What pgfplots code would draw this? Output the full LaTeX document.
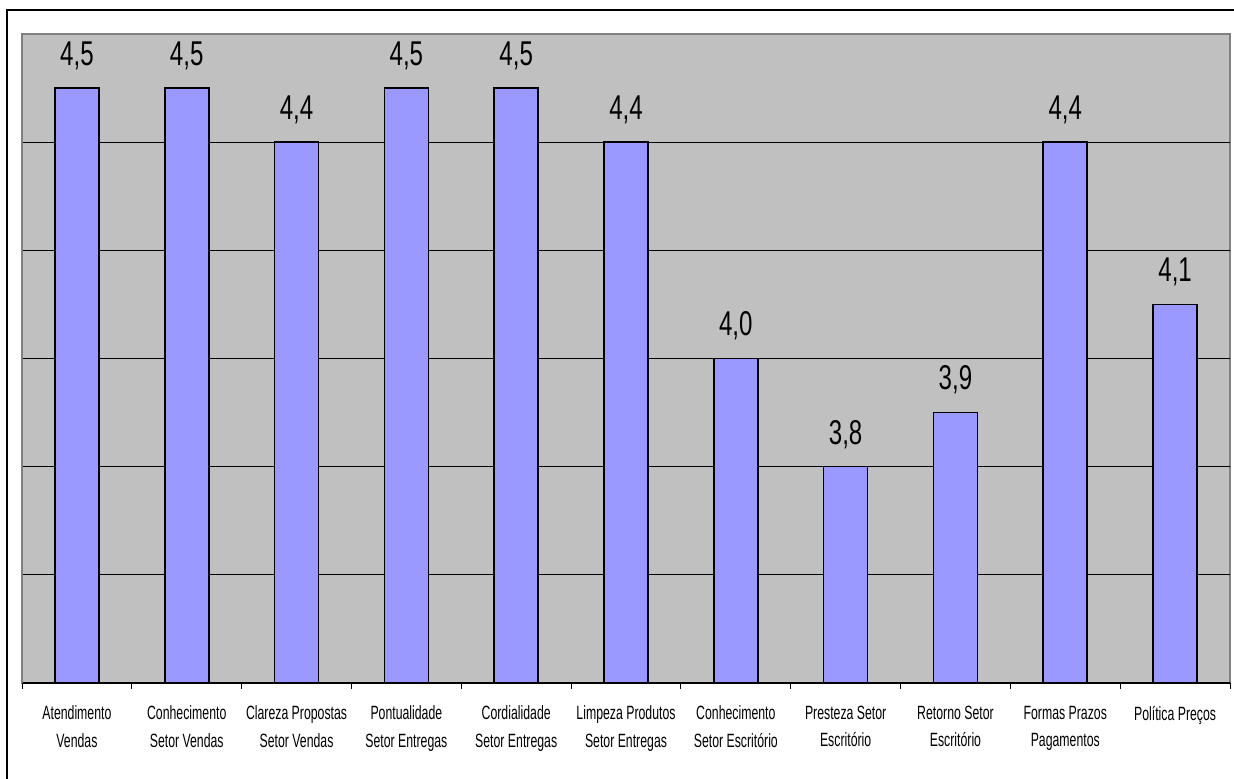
\documentclass[border=0pt]{standalone}
\usepackage{fontspec}
\setmainfont{Liberation Sans}
\newfontfamily\tickfont[FakeStretch=0.64]{Liberation Sans}
\newfontfamily\labfont[FakeStretch=0.70]{Liberation Sans}
\usepackage{pgfplots}
\pgfplotsset{compat=1.18}
\definecolor{plotgray}{HTML}{C0C0C0}
\definecolor{bargray}{HTML}{808080}
\definecolor{barblue}{HTML}{9999FF}
\begin{document}
\begin{tikzpicture}
\begin{axis}[
  at={(0,0)}, anchor=south west,
  scale only axis,
  width=604pt, height=324.5pt,
  xmin=-0.5, xmax=10.5,
  ymin=3.4, ymax=4.6,
  axis x line*=bottom,
  axis y line*=left,
  x axis line style={-, black, line width=0.7pt},
  y axis line style={-, draw=bargray},
  axis background/.style={fill=plotgray, draw=bargray, line width=0.7pt},
  ytick={3.6,3.8,4.0,4.2,4.4},
  yticklabels={},
  ymajorgrids,
  grid style={black, line width=0.5pt},
  ytick style={draw=none},
  xtick={0,...,10},
  major x tick style={draw=none},
  minor xtick={-0.5,0.5,...,10.5},
  minor x tick style={black, line width=0.5pt},
  minor tick length=3pt,
  tick align=outside,
  xticklabels={{Atendimento\\Vendas},{Conhecimento\\Setor Vendas},{Clareza Propostas\\Setor Vendas},{Pontualidade\\Setor Entregas},{Cordialidade\\Setor Entregas},{Limpeza Produtos\\Setor Entregas},{Conhecimento\\Setor Escritório},{Presteza Setor\\Escritório},{Retorno Setor\\Escritório},{Formas Prazos\\Pagamentos},{Política Preços}},
  xticklabel style={align=center, anchor=north, inner sep=0pt, yshift=-7pt, font=\tickfont\fontsize{9.6}{13.8}\selectfont},
  ybar,
  bar width=22pt,
  nodes near coords={\pgfmathprintnumber[fixed, fixed zerofill, precision=1, use comma, assume math mode=true]{\pgfplotspointmeta}},
  nodes near coords style={anchor=base, inner sep=0pt, yshift=11.3pt, font=\labfont\fontsize{17.2}{17.2}\selectfont, black},
]
\addplot[fill=barblue, draw=black, line width=0.8pt] coordinates {
  (0,4.5) (1,4.5) (2,4.4) (3,4.5) (4,4.5) (5,4.4) (6,4.0) (7,3.8) (8,3.9) (9,4.4) (10,4.1)
};
\end{axis}
\draw[line width=0.7pt] (-7.5pt,-80pt) -- (-7.5pt,336.5pt) -- (700pt,336.5pt);
\pgfresetboundingbox
\useasboundingbox (-11pt,-47.5pt) rectangle (606pt,341.5pt);
\end{tikzpicture}
\end{document}
